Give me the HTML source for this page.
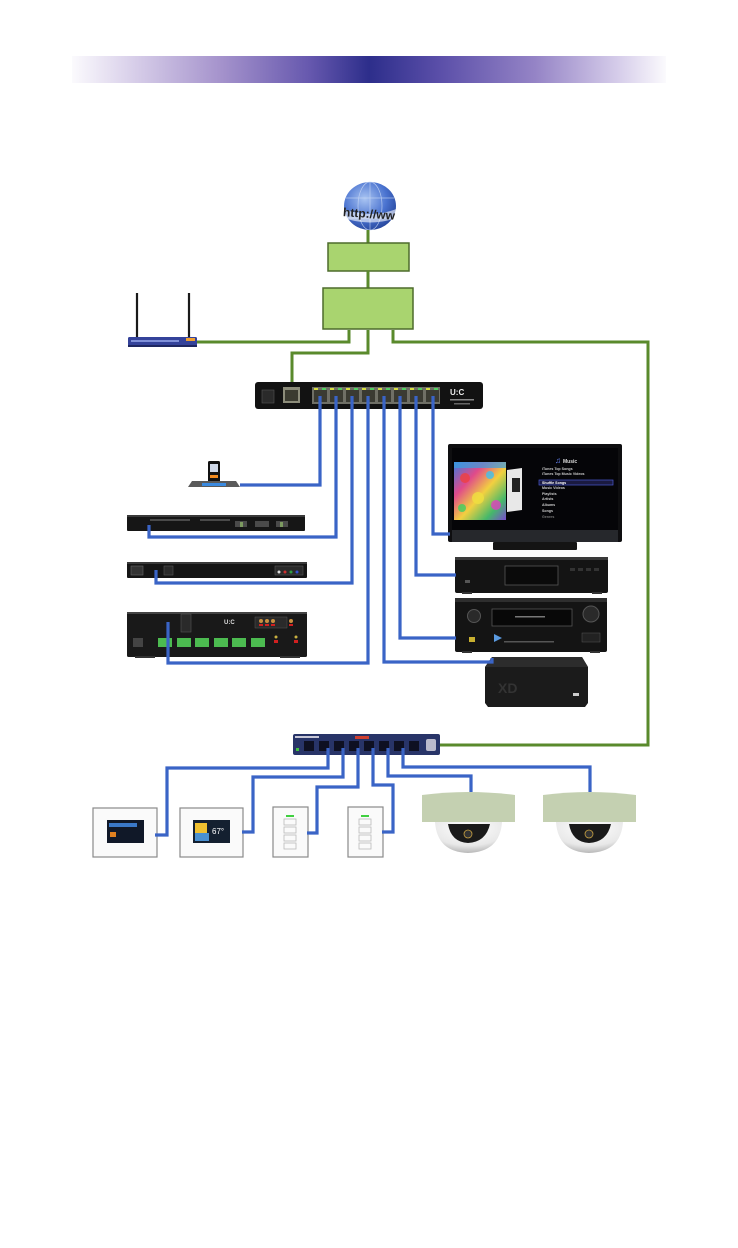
<!DOCTYPE html>
<html><head><meta charset="utf-8"><style>
html,body{margin:0;padding:0;background:#fff;}
body{width:738px;height:1248px;overflow:hidden;font-family:"Liberation Sans",sans-serif;}
svg{display:block;}
</style></head><body>
<svg width="738" height="1248" viewBox="0 0 738 1248" xmlns="http://www.w3.org/2000/svg">
<defs>
<linearGradient id="ban" x1="0" x2="1" y1="0" y2="0">
<stop offset="0" stop-color="#fbfafd"/>
<stop offset="0.1" stop-color="#d9d0ea"/>
<stop offset="0.25" stop-color="#a593cc"/>
<stop offset="0.4" stop-color="#6658ae"/>
<stop offset="0.5" stop-color="#2d2e8b"/>
<stop offset="0.62" stop-color="#5b4fa9"/>
<stop offset="0.78" stop-color="#9584c6"/>
<stop offset="0.92" stop-color="#d6cdea"/>
<stop offset="1" stop-color="#fbfafd"/>
</linearGradient>
<radialGradient id="glb" cx="0.4" cy="0.35" r="0.7">
<stop offset="0" stop-color="#a9c4f2"/>
<stop offset="0.6" stop-color="#4a73d0"/>
<stop offset="1" stop-color="#25449a"/>
</radialGradient>
<linearGradient id="art" x1="0" y1="0" x2="1" y2="1">
<stop offset="0" stop-color="#3a7be0"/>
<stop offset="0.3" stop-color="#e04a8a"/>
<stop offset="0.55" stop-color="#f2d040"/>
<stop offset="0.8" stop-color="#45b86a"/>
<stop offset="1" stop-color="#7a4ad0"/>
</linearGradient>
<radialGradient id="dome" cx="0.5" cy="0.2" r="0.8">
<stop offset="0" stop-color="#ffffff"/>
<stop offset="0.7" stop-color="#e8e8e8"/>
<stop offset="1" stop-color="#b8b8b8"/>
</radialGradient>
</defs>

<!-- banner -->
<rect x="72" y="56" width="594" height="27" fill="url(#ban)"/>

<!-- globe -->
<ellipse cx="370" cy="206" rx="26" ry="24" fill="url(#glb)"/>
<g stroke="#c9d8f5" stroke-width="0.7" fill="none" opacity="0.8">
<ellipse cx="370" cy="206" rx="12" ry="24"/>
<line x1="370" y1="182" x2="370" y2="230"/>
<line x1="346" y1="198" x2="394" y2="198"/>
<line x1="346" y1="218" x2="394" y2="218"/>
</g>
<path d="M341 208 Q370 220 399 208 L399 217 Q370 228 341 217 Z" fill="#fff" opacity="0.6"/>
<text x="343" y="218" font-size="12" font-weight="bold" fill="#222" font-family="Liberation Sans,sans-serif" transform="rotate(4 370 214)">http://ww</text>

<!-- green boxes -->
<line x1="368" y1="230" x2="368" y2="244" stroke="#5a8a2c" stroke-width="3"/>
<rect x="328" y="243" width="81" height="28" fill="#a9d46f" stroke="#4d6b2c" stroke-width="1.5"/>
<line x1="368" y1="271" x2="368" y2="288" stroke="#5a8a2c" stroke-width="3"/>
<rect x="323" y="288" width="90" height="41" fill="#a9d46f" stroke="#4d6b2c" stroke-width="1.5"/>

<!-- green connectors -->
<g stroke="#5a8a2c" stroke-width="3" fill="none">
<polyline points="349,330 349,342 197,342"/>
<polyline points="368,330 368,353 292,353 292,398"/>
<polyline points="393,330 393,342 648,342 648,745 418,745"/>
</g>

<!-- router -->
<line x1="137" y1="293" x2="137" y2="338" stroke="#1a1a1a" stroke-width="2.2"/>
<line x1="189" y1="293" x2="189" y2="338" stroke="#1a1a1a" stroke-width="2.2"/>
<rect x="128" y="337" width="69" height="10" rx="1.5" fill="#34429a"/>
<rect x="131" y="340" width="48" height="2" fill="#8090d8"/>
<rect x="186" y="338" width="9" height="3" fill="#f0a030"/>
<rect x="128" y="345" width="69" height="2" fill="#1e2660"/>

<!-- top switch -->
<rect x="255" y="382" width="228" height="27" rx="3" fill="#121212"/>
<rect x="262" y="390" width="12" height="13" fill="#2a2a2a" stroke="#555" stroke-width="0.6"/>
<rect x="283" y="387" width="17" height="16" fill="#8c8c7a"/>
<rect x="285" y="390" width="13" height="11" fill="#3b3b30"/>
<rect x="312" y="387" width="128" height="17" fill="#6f6f66"/>
<g fill="#3a3a32">
<rect x="314" y="390" width="13" height="12"/><rect x="330" y="390" width="13" height="12"/>
<rect x="346" y="390" width="13" height="12"/><rect x="362" y="390" width="13" height="12"/>
<rect x="378" y="390" width="13" height="12"/><rect x="394" y="390" width="13" height="12"/>
<rect x="410" y="390" width="13" height="12"/><rect x="426" y="390" width="13" height="12"/>
</g>
<g fill="#d8e040">
<rect x="314" y="388" width="4" height="2"/><rect x="330" y="388" width="4" height="2"/><rect x="346" y="388" width="4" height="2"/><rect x="362" y="388" width="4" height="2"/><rect x="378" y="388" width="4" height="2"/><rect x="394" y="388" width="4" height="2"/><rect x="410" y="388" width="4" height="2"/><rect x="426" y="388" width="4" height="2"/>
</g>
<g fill="#50d060">
<rect x="322" y="388" width="4" height="2"/><rect x="338" y="388" width="4" height="2"/><rect x="354" y="388" width="4" height="2"/><rect x="370" y="388" width="4" height="2"/><rect x="386" y="388" width="4" height="2"/><rect x="402" y="388" width="4" height="2"/><rect x="418" y="388" width="4" height="2"/><rect x="434" y="388" width="4" height="2"/>
</g>
<text x="450" y="395" font-size="8" font-weight="bold" fill="#eee">U:C</text>
<rect x="450" y="399" width="24" height="1.5" fill="#888"/>
<rect x="454" y="403" width="16" height="1.5" fill="#666"/>

<!-- left devices -->
<!-- ipod dock -->
<rect x="208" y="461" width="12" height="21" rx="1.5" fill="#111"/>
<rect x="210" y="464" width="8" height="8" fill="#cfd8e8"/>
<rect x="210" y="475" width="8" height="3" fill="#f08a20"/>
<path d="M188 487 L192 481 L236 481 L240 487 Z" fill="#5a5a5a"/>
<rect x="202" y="483" width="24" height="3" fill="#3a8ae0"/>

<!-- device 1 -->
<rect x="127" y="515" width="178" height="16" rx="1" fill="#161616"/>
<rect x="127" y="515" width="178" height="2" fill="#3a3a3a"/>
<g fill="#4a4a4a"><rect x="150" y="519" width="40" height="2"/><rect x="200" y="519" width="30" height="2"/><rect x="235" y="521" width="12" height="6"/><rect x="255" y="521" width="14" height="6"/><rect x="276" y="521" width="12" height="6"/></g>
<rect x="240" y="522" width="3" height="5" fill="#7c9a60"/><rect x="280" y="522" width="3" height="5" fill="#7c9a60"/>

<!-- device 2 -->
<rect x="127" y="562" width="180" height="16" rx="1" fill="#151515"/>
<rect x="127" y="562" width="180" height="2" fill="#3a3a3a"/>
<rect x="131" y="566" width="12" height="9" fill="#333" stroke="#666" stroke-width="0.6"/>
<rect x="164" y="566" width="9" height="9" fill="#2a2a2a" stroke="#555" stroke-width="0.6"/>
<rect x="275" y="566" width="28" height="9" fill="#2a2a2a" stroke="#555" stroke-width="0.6"/>
<circle cx="279" cy="572" r="1.5" fill="#ddd"/><circle cx="285" cy="572" r="1.5" fill="#d03030"/><circle cx="291" cy="572" r="1.5" fill="#30a040"/><circle cx="297" cy="572" r="1.5" fill="#3050d0"/>

<!-- amp -->
<rect x="127" y="612" width="180" height="45" rx="1.5" fill="#191919"/>
<rect x="127" y="612" width="180" height="2" fill="#444"/>
<rect x="181" y="614" width="10" height="18" fill="#2a2a2a" stroke="#555" stroke-width="0.6"/>
<text x="224" y="624" font-size="6" font-weight="bold" fill="#ddd">U:C</text>
<rect x="255" y="617" width="32" height="11" fill="#2a2a2a" stroke="#555" stroke-width="0.5"/>
<g fill="#c89040"><circle cx="261" cy="621" r="2"/><circle cx="267" cy="621" r="2"/><circle cx="273" cy="621" r="2"/><circle cx="291" cy="621" r="2"/></g>
<g fill="#d02020"><rect x="259" y="624" width="4" height="2"/><rect x="265" y="624" width="4" height="2"/><rect x="271" y="624" width="4" height="2"/><rect x="289" y="624" width="4" height="2"/></g>
<rect x="133" y="638" width="10" height="9" fill="#444"/>
<g fill="#4cbb50">
<rect x="158" y="638" width="14" height="9"/><rect x="177" y="638" width="14" height="9"/><rect x="195" y="638" width="14" height="9"/><rect x="214" y="638" width="14" height="9"/><rect x="232" y="638" width="14" height="9"/><rect x="251" y="638" width="14" height="9"/>
</g>
<g fill="#d02020"><rect x="274" y="640" width="4" height="3"/><rect x="294" y="640" width="4" height="3"/></g>
<g fill="#c8b040"><circle cx="276" cy="637" r="1.5"/><circle cx="296" cy="637" r="1.5"/></g>
<rect x="135" y="656" width="20" height="2" fill="#333"/><rect x="280" y="656" width="20" height="2" fill="#333"/>

<!-- TV -->
<rect x="448" y="444" width="174" height="98" rx="2" fill="#0e0e10"/>
<rect x="452" y="448" width="166" height="82" fill="#050508"/>
<rect x="452" y="530" width="166" height="12" fill="#26282c"/>
<rect x="493" y="542" width="84" height="8" rx="1" fill="#141414"/>
<rect x="454" y="462" width="52" height="58" fill="url(#art)"/>
<g opacity="0.8">
<circle cx="465" cy="478" r="5" fill="#f04040"/><circle cx="490" cy="475" r="4" fill="#40c0f0"/><circle cx="478" cy="498" r="6" fill="#f0e040"/><circle cx="496" cy="505" r="5" fill="#e040c0"/><circle cx="462" cy="508" r="4" fill="#40d060"/>
</g>
<rect x="454" y="462" width="52" height="6" fill="#3aa0e0" opacity="0.7"/>
<path d="M507 470 L522 468 L522 510 L507 512 Z" fill="#e8e8e8"/>
<rect x="512" y="478" width="8" height="14" fill="#222"/>
<text x="555" y="463" font-size="8" fill="#6a8aff">♫</text>
<text x="563" y="463" font-size="5" font-weight="bold" fill="#ddd">Music</text>
<g font-size="3.6" fill="#ccc" font-weight="bold">
<text x="542" y="470">iTunes Top Songs</text>
<text x="542" y="475">iTunes Top Music Videos</text>
<text x="542" y="489">Music Videos</text>
<text x="542" y="495">Playlists</text>
<text x="542" y="500">Artists</text>
<text x="542" y="506">Albums</text>
<text x="542" y="512">Songs</text>
<text x="542" y="518" fill="#777">Genres</text>
</g>
<rect x="539" y="480" width="74" height="5" fill="#1a1a40" stroke="#4a5ad0" stroke-width="0.7"/>
<text x="542" y="484" font-size="3.6" font-weight="bold" fill="#fff">Shuffle Songs</text>

<!-- CD player -->
<rect x="455" y="557" width="153" height="36" rx="2" fill="#141414"/>
<rect x="455" y="557" width="153" height="3" fill="#3a3a3a"/>
<rect x="505" y="566" width="53" height="19" fill="#0a0a0a" stroke="#555" stroke-width="0.8"/>
<rect x="465" y="580" width="5" height="3" fill="#555"/>
<g fill="#333"><rect x="570" y="568" width="5" height="3"/><rect x="578" y="568" width="5" height="3"/><rect x="586" y="568" width="5" height="3"/><rect x="594" y="568" width="5" height="3"/></g>
<rect x="462" y="592" width="10" height="2" fill="#333"/><rect x="592" y="592" width="10" height="2" fill="#333"/>

<!-- AVR -->
<rect x="455" y="598" width="152" height="54" rx="2" fill="#141414"/>
<rect x="455" y="598" width="152" height="4" fill="#2e2e2e"/>
<circle cx="474" cy="616" r="6.5" fill="#2a2a2a" stroke="#555" stroke-width="1"/>
<circle cx="591" cy="614" r="8" fill="#2a2a2a" stroke="#555" stroke-width="1"/>
<rect x="492" y="609" width="80" height="17" fill="#080808" stroke="#555" stroke-width="0.8"/>
<rect x="515" y="616" width="30" height="1.5" fill="#777"/>
<path d="M494 634 L502 638 L494 642 Z" fill="#5a9ae0"/>
<rect x="504" y="641" width="50" height="1.5" fill="#555"/>
<rect x="469" y="637" width="6" height="5" fill="#c8b030"/>
<rect x="582" y="633" width="18" height="9" fill="#222" stroke="#555" stroke-width="0.5"/>
<rect x="462" y="651" width="10" height="2" fill="#333"/><rect x="590" y="651" width="10" height="2" fill="#333"/>

<!-- XD box -->
<path d="M485 667 L492 657 L582 657 L588 667 L588 703 L585 707 L488 707 L485 703 Z" fill="#1b1b1b"/>
<path d="M485 667 L492 657 L582 657 L588 667 Z" fill="#2c2c2c"/>
<text x="498" y="693" font-size="14" fill="#333" font-weight="bold">XD</text>
<rect x="573" y="693" width="6" height="3" fill="#ccc"/>

<!-- bottom switch -->
<rect x="293" y="734" width="147" height="21" rx="2" fill="#283468"/>
<rect x="295" y="736" width="24" height="2" fill="#c8c8d8"/>
<rect x="296" y="748" width="3" height="3" fill="#40c040"/>
<rect x="355" y="736" width="14" height="3" fill="#d04030"/>
<g fill="#0e1022">
<rect x="304" y="741" width="10" height="10"/><rect x="319" y="741" width="10" height="10"/><rect x="334" y="741" width="10" height="10"/><rect x="349" y="741" width="10" height="10"/><rect x="364" y="741" width="10" height="10"/><rect x="379" y="741" width="10" height="10"/><rect x="394" y="741" width="10" height="10"/><rect x="409" y="741" width="10" height="10"/>
</g>
<rect x="426" y="739" width="10" height="12" rx="2" fill="#bbc"/>

<!-- bottom panels -->
<rect x="93" y="808" width="64" height="49" fill="#fafafa" stroke="#8a8a8a" stroke-width="1.2"/>
<rect x="107" y="820" width="37" height="23" fill="#101828"/>
<rect x="109" y="823" width="28" height="4" fill="#3a78c8"/>
<rect x="110" y="832" width="6" height="5" fill="#e08020"/>
<rect x="180" y="808" width="63" height="49" fill="#fafafa" stroke="#8a8a8a" stroke-width="1.2"/>
<rect x="193" y="820" width="37" height="23" fill="#142030"/>
<rect x="195" y="823" width="12" height="12" fill="#f0c030"/>
<rect x="195" y="833" width="14" height="8" fill="#4a90d0"/>
<text x="212" y="834" font-size="8" fill="#fff">67°</text>
<rect x="273" y="807" width="35" height="50" fill="#fafafa" stroke="#8a8a8a" stroke-width="1.2"/>
<rect x="286" y="815" width="8" height="2" fill="#40d040"/>
<g fill="none" stroke="#bbb" stroke-width="0.8"><rect x="284" y="819" width="12" height="6"/><rect x="284" y="827" width="12" height="6"/><rect x="284" y="835" width="12" height="6"/><rect x="284" y="843" width="12" height="6"/></g>
<rect x="348" y="807" width="35" height="50" fill="#fafafa" stroke="#8a8a8a" stroke-width="1.2"/>
<rect x="361" y="815" width="8" height="2" fill="#40d040"/>
<g fill="none" stroke="#bbb" stroke-width="0.8"><rect x="359" y="819" width="12" height="6"/><rect x="359" y="827" width="12" height="6"/><rect x="359" y="835" width="12" height="6"/><rect x="359" y="843" width="12" height="6"/></g>

<!-- cameras -->
<path d="M422 795 Q468 789 515 795 L515 822 L422 822 Z" fill="#c4d0b1"/>
<path d="M435 822 L502 822 Q500 852 468 853 Q437 852 435 822 Z" fill="url(#dome)"/>
<path d="M448 824 L490 824 Q486 842 468 843 Q451 842 448 824 Z" fill="#1a1a1a"/>
<circle cx="468" cy="834" r="4" fill="#333" stroke="#c8a040" stroke-width="0.8"/>
<path d="M543 795 Q589 789 636 795 L636 822 L543 822 Z" fill="#c4d0b1"/>
<path d="M556 822 L623 822 Q621 852 589 853 Q558 852 556 822 Z" fill="url(#dome)"/>
<path d="M569 824 L611 824 Q607 842 589 843 Q572 842 569 824 Z" fill="#1a1a1a"/>
<circle cx="589" cy="834" r="4" fill="#333" stroke="#c8a040" stroke-width="0.8"/>

<!-- blue connectors -->
<g stroke="#3a64c6" stroke-width="3.2" fill="none" stroke-linejoin="miter">
<polyline points="320,396 320,485 240,485"/>
<polyline points="336,396 336,537 149,537 149,525"/>
<polyline points="352,396 352,583 156,583 156,570"/>
<polyline points="368,396 368,663 168,663 168,622"/>
<polyline points="384,396 384,662 492,662 492,658"/>
<polyline points="400,396 400,638 456,638"/>
<polyline points="416,396 416,575 456,575"/>
<polyline points="433,396 433,534 450,534"/>

<polyline points="328,748 328,768 167,768 167,835 155,835"/>
<polyline points="343,748 343,777 253,777 253,832 242,832"/>
<polyline points="358,748 358,787 317,787 317,833 307,833"/>
<polyline points="373,748 373,785 393,785 393,832 382,832"/>
<polyline points="388,748 388,776 471,776 471,792"/>
<polyline points="403,748 403,767 590,767 590,792"/>
</g>
</svg>
</body></html>
